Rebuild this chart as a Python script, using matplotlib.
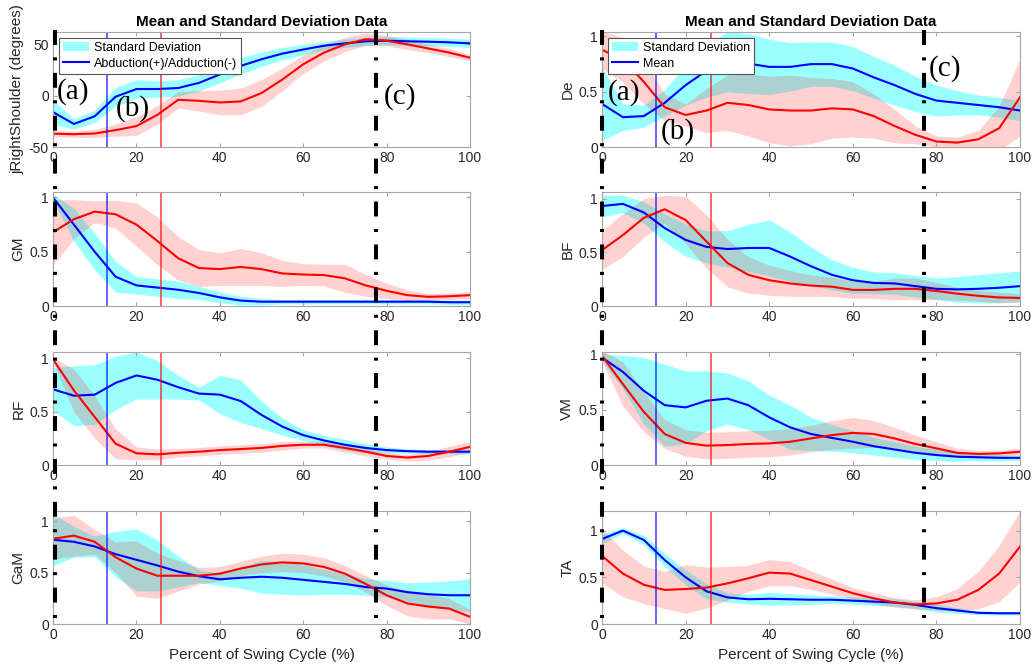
import matplotlib.pyplot as plt
import numpy as np
from matplotlib.lines import Line2D
from matplotlib.transforms import blended_transform_factory

plt.rcParams['font.family'] = ['Liberation Sans', 'DejaVu Sans']

# percent of swing cycle, sampled every 5 %
pct = np.arange(0, 101, 5)

# events: blue / red toe-off markers and the phase boundaries
blue_event = 13
red_event = 26
left_phases = [0.5, 77.5]
right_phases = [0, 77]

# jRightShoulder (degrees)
shoulder_blue = [-16, -27.5, -20, -1, 6.5, 6.5, 7.5, 12.5, 20.7, 29, 35.5, 41, 45, 48.7, 51, 53, 53.6, 53, 52.6, 52, 51]
shoulder_blue_sd = [12, 5, 6, 9, 9, 8, 8, 8, 8, 8, 7, 6, 5, 4, 4, 4, 4, 4, 4, 4, 4]
shoulder_red = [-37, -37.5, -36.8, -33.5, -29.6, -18.7, -4, -5, -6.6, -5.6, 2.6, 15.8, 30.6, 42, 50, 55, 53.6, 50, 46, 42, 37]
shoulder_red_sd = [3, 3, 4, 6, 9, 9, 8, 10, 12, 13, 13, 11, 9, 8, 7, 6, 5, 5, 4, 4, 3]

# De
de_blue = [0.39, 0.27, 0.28, 0.40, 0.56, 0.69, 0.77, 0.755, 0.725, 0.725, 0.75, 0.75, 0.71, 0.63, 0.56, 0.48, 0.42, 0.40, 0.38, 0.36, 0.33]
de_blue_sd = [0.33, 0.12, 0.1, 0.12, 0.18, 0.24, 0.27, 0.27, 0.25, 0.22, 0.2, 0.2, 0.2, 0.19, 0.18, 0.16, 0.14, 0.11, 0.09, 0.09, 0.09]
de_red = [0.88, 0.79, 0.59, 0.36, 0.29, 0.33, 0.40, 0.38, 0.34, 0.33, 0.33, 0.35, 0.34, 0.28, 0.19, 0.11, 0.05, 0.04, 0.07, 0.17, 0.45]
de_red_sd = [0.17, 0.2, 0.2, 0.12, 0.1, 0.2, 0.25, 0.28, 0.3, 0.32, 0.3, 0.27, 0.25, 0.2, 0.15, 0.08, 0.05, 0.05, 0.08, 0.2, 0.35]

# GM
gm_blue = [1.0, 0.75, 0.50, 0.27, 0.19, 0.17, 0.15, 0.12, 0.08, 0.05, 0.04, 0.04, 0.04, 0.04, 0.04, 0.04, 0.04, 0.04, 0.04, 0.035, 0.035]
gm_blue_sd = [0.03, 0.15, 0.17, 0.14, 0.08, 0.08, 0.08, 0.06, 0.05, 0.04, 0.03, 0.02, 0.02, 0.02, 0.02, 0.02, 0.02, 0.02, 0.02, 0.02, 0.02]
gm_red = [0.68, 0.80, 0.87, 0.845, 0.75, 0.60, 0.44, 0.35, 0.34, 0.36, 0.34, 0.30, 0.29, 0.285, 0.255, 0.19, 0.14, 0.10, 0.085, 0.09, 0.10]
gm_red_sd = [0.3, 0.18, 0.1, 0.13, 0.2, 0.22, 0.2, 0.17, 0.15, 0.17, 0.15, 0.12, 0.1, 0.1, 0.13, 0.1, 0.07, 0.05, 0.03, 0.03, 0.03]

# BF
bf_blue = [0.93, 0.95, 0.87, 0.725, 0.615, 0.55, 0.53, 0.54, 0.54, 0.46, 0.37, 0.29, 0.24, 0.215, 0.21, 0.185, 0.16, 0.155, 0.16, 0.17, 0.185]
bf_blue_sd = [0.1, 0.08, 0.1, 0.13, 0.15, 0.15, 0.17, 0.22, 0.26, 0.23, 0.18, 0.14, 0.12, 0.1, 0.1, 0.1, 0.1, 0.12, 0.13, 0.14, 0.14]
bf_red = [0.52, 0.66, 0.82, 0.90, 0.80, 0.60, 0.40, 0.29, 0.24, 0.21, 0.19, 0.18, 0.15, 0.15, 0.16, 0.16, 0.14, 0.115, 0.095, 0.08, 0.075]
bf_red_sd = [0.18, 0.2, 0.18, 0.13, 0.22, 0.25, 0.22, 0.17, 0.14, 0.12, 0.1, 0.09, 0.08, 0.08, 0.1, 0.1, 0.08, 0.06, 0.05, 0.05, 0.04]

# RF
rf_blue = [0.71, 0.65, 0.66, 0.77, 0.84, 0.80, 0.73, 0.67, 0.66, 0.60, 0.47, 0.36, 0.28, 0.23, 0.19, 0.16, 0.14, 0.13, 0.125, 0.125, 0.125]
rf_blue_sd = [0.2, 0.28, 0.28, 0.25, 0.22, 0.18, 0.11, 0.06, 0.18, 0.2, 0.13, 0.08, 0.05, 0.05, 0.05, 0.04, 0.03, 0.02, 0.02, 0.02, 0.02]
rf_red = [0.99, 0.70, 0.45, 0.20, 0.11, 0.10, 0.115, 0.125, 0.14, 0.15, 0.16, 0.18, 0.19, 0.19, 0.16, 0.125, 0.085, 0.07, 0.085, 0.125, 0.17]
rf_red_sd = [0.02, 0.2, 0.2, 0.14, 0.06, 0.05, 0.04, 0.04, 0.04, 0.04, 0.04, 0.04, 0.03, 0.03, 0.04, 0.04, 0.03, 0.03, 0.04, 0.05, 0.05]

# VM
vm_blue = [0.97, 0.84, 0.67, 0.54, 0.52, 0.58, 0.60, 0.54, 0.43, 0.34, 0.28, 0.245, 0.21, 0.17, 0.14, 0.11, 0.09, 0.075, 0.07, 0.065, 0.065]
vm_blue_sd = [0.03, 0.15, 0.3, 0.37, 0.33, 0.27, 0.23, 0.22, 0.2, 0.2, 0.15, 0.12, 0.1, 0.08, 0.07, 0.06, 0.05, 0.04, 0.03, 0.03, 0.02]
vm_red = [0.985, 0.73, 0.48, 0.28, 0.20, 0.175, 0.18, 0.19, 0.195, 0.21, 0.24, 0.27, 0.29, 0.28, 0.24, 0.19, 0.15, 0.11, 0.10, 0.105, 0.12]
vm_red_sd = [0.05, 0.2, 0.18, 0.13, 0.12, 0.12, 0.12, 0.12, 0.12, 0.12, 0.12, 0.13, 0.14, 0.12, 0.1, 0.08, 0.06, 0.04, 0.03, 0.03, 0.03]

# GaM
gam_blue = [0.82, 0.80, 0.755, 0.68, 0.625, 0.57, 0.51, 0.465, 0.435, 0.45, 0.46, 0.45, 0.43, 0.41, 0.39, 0.36, 0.345, 0.31, 0.29, 0.28, 0.28]
gam_blue_sd = [0.25, 0.15, 0.1, 0.22, 0.3, 0.25, 0.15, 0.06, 0.06, 0.1, 0.16, 0.16, 0.15, 0.12, 0.1, 0.08, 0.08, 0.09, 0.12, 0.14, 0.16]
gam_red = [0.83, 0.86, 0.80, 0.65, 0.54, 0.47, 0.47, 0.47, 0.49, 0.54, 0.58, 0.60, 0.59, 0.555, 0.49, 0.39, 0.28, 0.20, 0.17, 0.15, 0.07]
gam_red_sd = [0.2, 0.2, 0.12, 0.15, 0.27, 0.22, 0.15, 0.08, 0.07, 0.07, 0.08, 0.09, 0.09, 0.09, 0.08, 0.08, 0.1, 0.12, 0.12, 0.1, 0.07]

# TA
ta_blue = [0.91, 1.0, 0.90, 0.685, 0.50, 0.35, 0.285, 0.265, 0.27, 0.265, 0.26, 0.26, 0.25, 0.24, 0.23, 0.205, 0.17, 0.145, 0.12, 0.115, 0.115]
ta_blue_sd = [0.05, 0.03, 0.05, 0.07, 0.08, 0.08, 0.05, 0.05, 0.07, 0.06, 0.05, 0.04, 0.04, 0.04, 0.04, 0.04, 0.04, 0.03, 0.02, 0.02, 0.02]
ta_red = [0.73, 0.54, 0.42, 0.365, 0.375, 0.39, 0.435, 0.49, 0.55, 0.54, 0.47, 0.40, 0.33, 0.275, 0.23, 0.21, 0.22, 0.26, 0.365, 0.54, 0.83]
ta_red_sd = [0.29, 0.25, 0.2, 0.2, 0.26, 0.22, 0.18, 0.14, 0.14, 0.13, 0.1, 0.08, 0.06, 0.06, 0.05, 0.05, 0.07, 0.12, 0.2, 0.3, 0.38]

left_panels = [
    ('jRightShoulder (degrees)', shoulder_blue, shoulder_blue_sd, shoulder_red, shoulder_red_sd, (-50, 62), [-50, 0, 50]),
    ('GM', gm_blue, gm_blue_sd, gm_red, gm_red_sd, (0, 1.05), [0, 0.5, 1]),
    ('RF', rf_blue, rf_blue_sd, rf_red, rf_red_sd, (0, 1.06), [0, 0.5, 1]),
    ('GaM', gam_blue, gam_blue_sd, gam_red, gam_red_sd, (0, 1.1), [0, 0.5, 1]),
]
right_panels = [
    ('De', de_blue, de_blue_sd, de_red, de_red_sd, (0, 1.04), [0, 0.5, 1]),
    ('BF', bf_blue, bf_blue_sd, bf_red, bf_red_sd, (0, 1.06), [0, 0.5, 1]),
    ('VM', vm_blue, vm_blue_sd, vm_red, vm_red_sd, (0, 1.02), [0, 0.5, 1]),
    ('TA', ta_blue, ta_blue_sd, ta_red, ta_red_sd, (0, 1.21), [0, 0.5, 1]),
]

spine_gray = '#a6a6a6'
text_gray = '#262626'
row_bottoms = [0.7812, 0.5446, 0.3080, 0.0714]
row_heights = [0.1711, 0.1696, 0.1682, 0.1682]


def draw_panel(ax, ylabel, blue, blue_sd, red, red_sd, ylim, yticks):
    blue, blue_sd = np.array(blue), np.array(blue_sd)
    red, red_sd = np.array(red), np.array(red_sd)
    band = ax.fill_between(pct, blue - blue_sd, blue + blue_sd, color='cyan', alpha=0.4, lw=0)
    line, = ax.plot(pct, blue, color='blue', lw=1.5)
    ax.fill_between(pct, red - red_sd, red + red_sd, color='red', alpha=0.18, lw=0)
    ax.plot(pct, red, color='red', lw=1.5)
    ax.axvline(blue_event, color='blue', lw=1.2, alpha=0.7)
    ax.axvline(red_event, color='red', lw=1.2, alpha=0.7)

    ax.set_xlim(0, 100)
    ax.set_ylim(*ylim)
    ax.set_xticks([0, 20, 40, 60, 80, 100])
    ax.set_yticks(yticks)
    ax.set_yticklabels(['%g' % t for t in yticks])
    ax.tick_params(direction='in', top=True, right=True, length=3, width=0.8,
                   color=spine_gray, labelcolor=text_gray, labelsize=10, pad=3)
    for s in ax.spines.values():
        s.set_color(spine_gray)
        s.set_linewidth(0.8)
    ax.set_ylabel(ylabel, fontsize=11, color=text_gray, labelpad=3)
    return band, line


fig = plt.figure(figsize=(10.36, 6.72), dpi=100)

columns = [
    (0.0512, 0.4025, left_panels, left_phases, 'Abduction(+)/Adduction(-)'),
    (0.5811, 0.4035, right_panels, right_phases, 'Mean'),
]

for x0, w, panels, phases, mean_label in columns:
    axes = []
    for i, (ylabel, b, bsd, r, rsd, ylim, yticks) in enumerate(panels):
        ax = fig.add_axes([x0, row_bottoms[i], w, row_heights[i]])
        band, line = draw_panel(ax, ylabel, b, bsd, r, rsd, ylim, yticks)
        axes.append(ax)
        if i == 0:
            ax.set_title('Mean and Standard Deviation Data', fontsize=11,
                         fontweight='bold', pad=4)
            leg = ax.legend([band, line], ['Standard Deviation', mean_label],
                            loc='upper left', fontsize=9, fancybox=False,
                            framealpha=1, edgecolor='#555555', borderaxespad=0.5,
                            handlelength=2.1, labelspacing=0.3, borderpad=0.3,
                            handletextpad=0.4)
            leg.get_frame().set_linewidth(0.8)
    axes[-1].set_xlabel('Percent of Swing Cycle (%)', fontsize=11, color=text_gray)

    # phase boundaries running through the whole column
    trans = blended_transform_factory(axes[-1].transData, fig.transFigure)
    for p in phases:
        fig.add_artist(Line2D([p, p], [0.955, 0.068], transform=trans, color='black',
                              lw=2.9, linestyle=(0, (3.7, 3.1, 0.75, 3.1)),
                              dash_capstyle='butt'))

# phase labels
serif = dict(fontfamily='Liberation Serif', fontsize=21, ha='center', va='center', clip_on=False)
ax_l = fig.axes[0]
ax_r = fig.axes[4]
ax_l.text(4.8, 4, '(a)', **serif)
ax_l.text(19.2, -12.6, '(b)', **serif)
ax_l.text(83.2, -1, '(c)', **serif)
ax_r.text(5.3, 0.49, '(a)', **serif)
ax_r.text(18.2, 0.14, '(b)', **serif)
ax_r.text(82, 0.71, '(c)', **serif)

fig.savefig('out.png', dpi=100)
